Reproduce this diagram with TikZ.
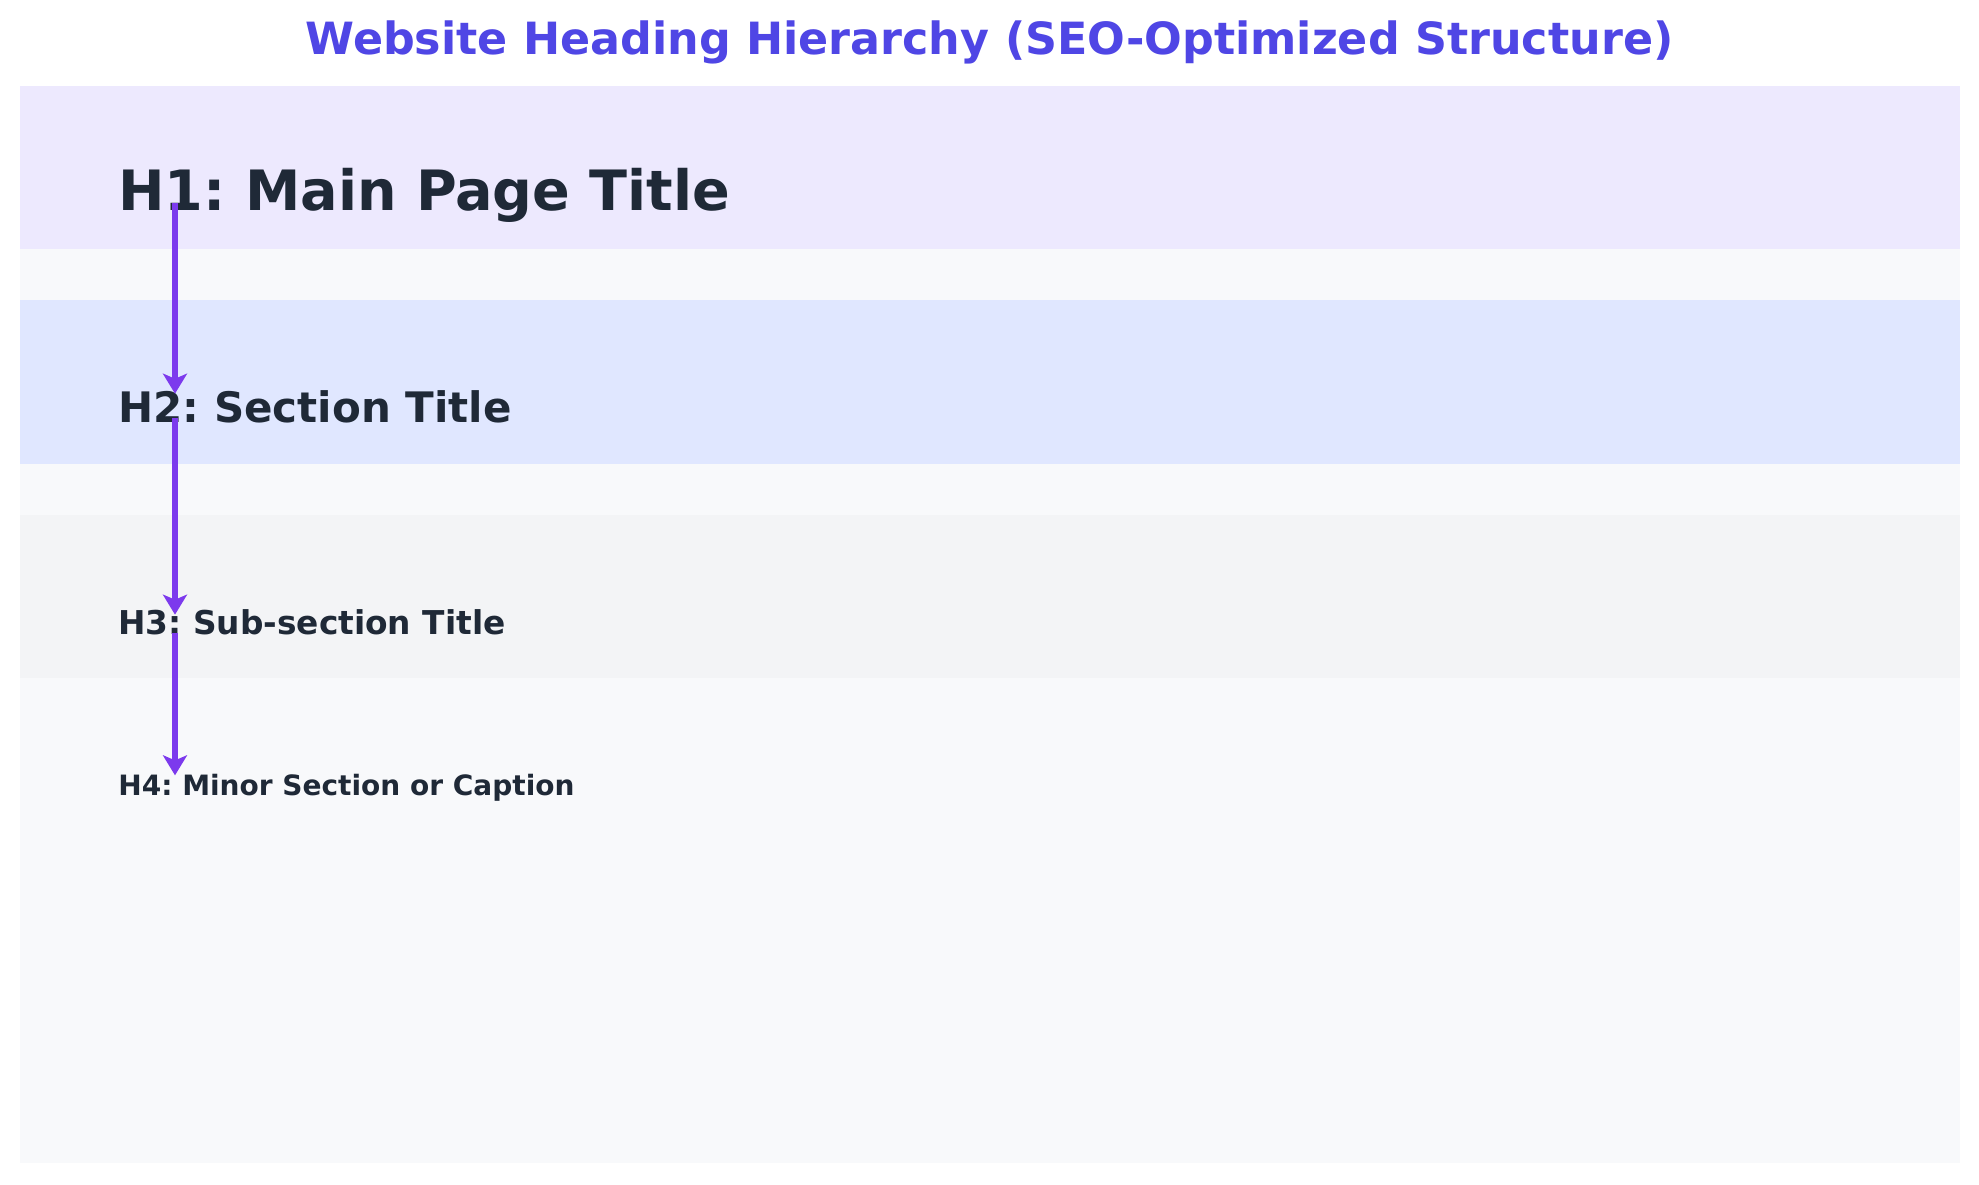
\documentclass[tikz,border=0pt]{standalone}
\usepackage{fontspec}
\setmainfont{DejaVu Sans}
\usetikzlibrary{arrows.meta}
\frenchspacing
\definecolor{titlecol}{HTML}{4F46E5}
\definecolor{textcol}{HTML}{1F2937}
\definecolor{arrowcol}{HTML}{7C3AED}
\definecolor{panelbg}{HTML}{F8F9FB}
\definecolor{bandone}{HTML}{EDE9FE}
\definecolor{bandtwo}{HTML}{E0E7FF}
\definecolor{bandthree}{HTML}{F3F4F6}
\tikzset{
  heading/.style={anchor=base west, inner sep=0pt, text=textcol, font=\bfseries},
  hierarrow/.style={draw=arrowcol, line width=2.6pt, arrows={-Stealth[length=10pt,width=12pt,inset=2.5pt]}},
}
\begin{document}
\begin{tikzpicture}[x=0.5pt,y=-0.5pt]
\useasboundingbox[fill=white] (0,0) rectangle (1979,1184);
% panel and bands
\fill[panelbg] (20,86) rectangle (1960,1163);
\fill[bandone] (20,86) rectangle (1960,249);
\fill[bandtwo] (20,300) rectangle (1960,464);
\fill[bandthree] (20,515) rectangle (1960,678);
% title
\node[anchor=base, inner sep=0pt, text=titlecol, font=\bfseries\fontsize{22.2}{26}\selectfont] (title) at (989.5,54) {Website Heading Hierarchy (SEO-Optimized Structure)};
% headings
\node[heading, font=\bfseries\fontsize{27.8}{32}\selectfont] (h1) at (118,210) {H1: Main Page Title};
\node[heading, font=\bfseries\fontsize{21}{25}\selectfont] (h2) at (118,422) {H2: Section Title};
\node[heading, font=\bfseries\fontsize{16.4}{20}\selectfont] (h3) at (118,634) {H3: Sub-section Title};
\node[heading, font=\bfseries\fontsize{14}{17}\selectfont] (h4) at (118,795) {H4: Minor Section or Caption};
% arrow axis
\coordinate (ax) at (175,0);
\path (h1.base west -| ax) coordinate (s1);
\path (h2.base west -| ax) coordinate (s2);
\path (h3.base west -| ax) coordinate (s3);
\draw[hierarrow] ([yshift=3.5pt]s1) -- ([yshift=-2pt]h2.north west -| ax);
\draw[hierarrow] ([yshift=2pt]s2) -- ([yshift=-3pt]h3.north west -| ax);
\draw[hierarrow] ([yshift=0.5pt]s3) -- ([yshift=-1pt]h4.north west -| ax);
\end{tikzpicture}
\end{document}
